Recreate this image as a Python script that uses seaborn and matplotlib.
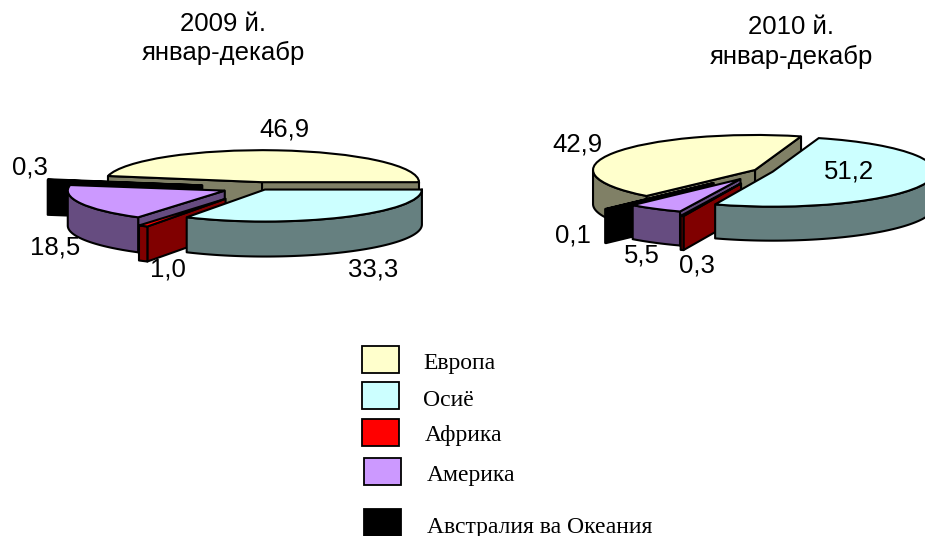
import matplotlib
matplotlib.use("Agg")
import numpy as np
import seaborn as sns
import matplotlib.pyplot as plt
from matplotlib.patches import Rectangle

sns.set_theme(style="white")
plt.rcParams['font.family'] = ['Liberation Sans', 'DejaVu Sans']

# order of the slices, counter-clockwise from the start angle
regions = ["Европа", "Австралия ва Океания", "Америка", "Африка", "Осиё"]
values_2009 = [46.9, 0.3, 18.5, 1.0, 33.3]
values_2010 = [42.9, 0.1, 5.5, 0.3, 51.2]
labels_2009 = ["46,9", "0,3", "18,5", "1,0", "33,3"]
labels_2010 = ["42,9", "0,1", "5,5", "0,3", "51,2"]
legend_order = ["Европа", "Осиё", "Африка", "Америка", "Австралия ва Океания"]

top_colors = {"Европа": "#FFFFCC", "Австралия ва Океания": "#000000", "Америка": "#CC99FF",
              "Африка": "#FF0000", "Осиё": "#CCFFFF"}
side_colors = {"Европа": "#808066", "Австралия ва Океания": "#000000", "Америка": "#664C80",
               "Африка": "#800000", "Осиё": "#668080"}

W, H = 925, 536
fig = plt.figure(figsize=(W / 100, H / 100), dpi=100, facecolor="white")
LW = 1.5
SANS = 18.5


def pie3d(values, labels, cx, cy, rx, ry, depth_px, start, explode, label_px):
    lim = 1.25
    ax = fig.add_axes([(cx - lim * rx) / W, 1 - (cy + lim * ry) / H, 2 * lim * rx / W, 2 * lim * ry / H])
    wedges, _ = ax.pie(values, startangle=start, explode=explode, radius=1, normalize=True,
                       colors=[top_colors[r] for r in regions],
                       wedgeprops=dict(edgecolor="black", linewidth=LW, clip_on=False))
    ax.set_aspect("auto")
    ax.set_xlim(-lim, lim)
    ax.set_ylim(-lim, lim)
    depth = depth_px / ry
    for i, (w, reg) in enumerate(zip(wedges, regions)):
        w.set_zorder(10 * i + 5)
        x0, y0 = w.center
        t1, t2 = w.theta1, w.theta2
        side = side_colors[reg]
        kw = dict(facecolor=side, edgecolor="black", linewidth=LW, clip_on=False, joinstyle="round")
        # flat cut faces that turn toward the viewer
        for t, show in ((t1, np.cos(np.radians(t1)) > 0), (t2, np.cos(np.radians(t2)) < 0)):
            if show:
                a = np.radians(t)
                xs = [x0, x0 + np.cos(a), x0 + np.cos(a), x0]
                ys = [y0, y0 + np.sin(a), y0 + np.sin(a) - depth, y0 - depth]
                ax.fill(xs, ys, zorder=10 * i + 1, **kw)
        # visible front part of the rim
        grid = []
        for k in range(-1, 3):
            lo, hi = max(t1, 180 + 360 * k), min(t2, 360 + 360 * k)
            if hi > lo:
                grid.append(np.radians(np.linspace(lo, hi, 80)))
        for g in grid:
            xs = np.r_[x0 + np.cos(g), x0 + np.cos(g[::-1])]
            ys = np.r_[y0 + np.sin(g), y0 + np.sin(g[::-1]) - depth]
            ax.fill(xs, ys, zorder=10 * i + 2, **kw)
    for lab, (lx, ly) in zip(labels, label_px):
        fig.text(lx / W, 1 - ly / H, lab, ha="center", va="center", fontsize=SANS, color="black")
    return ax


pie3d(values_2009, labels_2009, 259.4, 187.6, 157, 32, 35, 0,
      [0.17, 0.37, 0.24, 0.41, 0.07],
      [(284, 130), (30, 167), (55, 248), (168, 269), (373, 269)])
pie3d(values_2010, labels_2010, 763.5, 171, 162, 35, 34, 73.5,
      [0.06, 0.46, 0.27, 0.38, 0.06],
      [(577, 145), (573, 236), (642, 255), (697, 265), (849, 172)])

titles = ["2009 й.", "январ-декабр", "2010 й.", "январ-декабр"]
title_pos = [(223, 24), (223, 53), (791, 27), (791, 57)]
for txt, (tx, ty) in zip(titles, title_pos):
    fig.text(tx / W, 1 - ty / H, txt, ha="center", va="center", fontsize=SANS, color="black")

legend_boxes = [(362, 346), (362, 382), (362, 419), (364, 458), (364, 509)]
legend_texts = [(423, 363), (423, 400), (425, 436), (427, 476), (427, 527)]
for name, (bx, by), (tx, ty) in zip(legend_order, legend_boxes, legend_texts):
    fig.add_artist(Rectangle((bx / W, 1 - (by + 27) / H), 37 / W, 27 / H, transform=fig.transFigure,
                             facecolor=top_colors[name], edgecolor="black", linewidth=1.3))
    fig.text(tx / W, 1 - ty / H, name, ha="left", va="center", fontsize=17,
             family=["Liberation Serif", "DejaVu Serif"], color="black")

fig.savefig("out.png", dpi=100)
